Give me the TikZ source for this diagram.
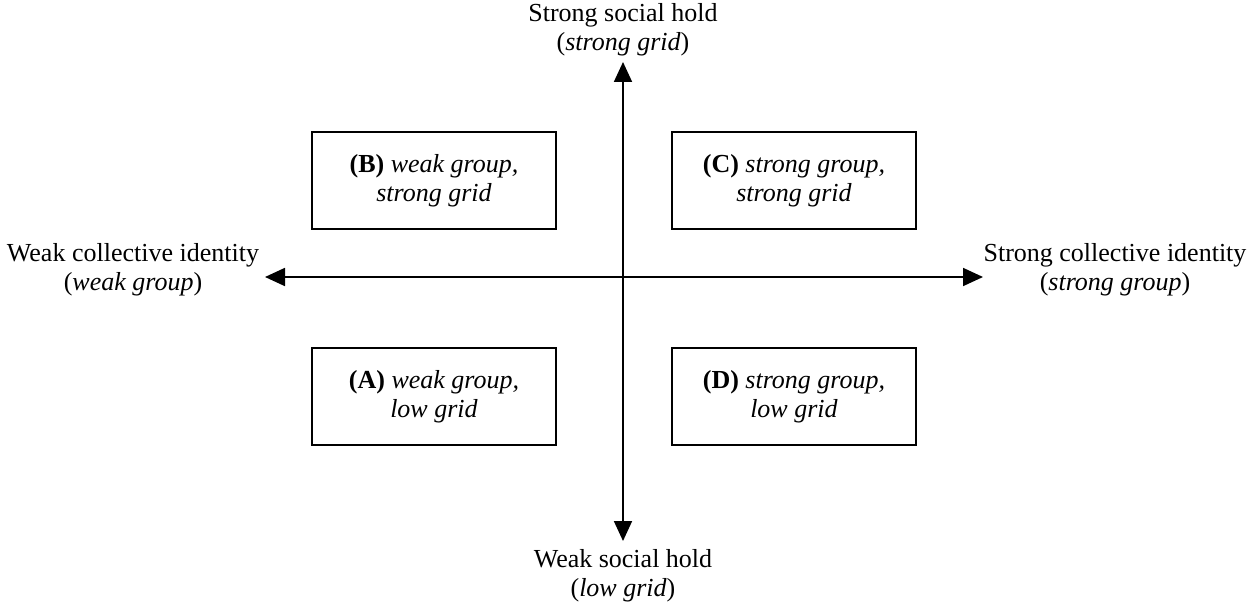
\documentclass[tikz,border=0pt]{standalone}
\usepackage{fontspec}
\setmainfont{Liberation Serif}
\usetikzlibrary{arrows.meta}
\begin{document}
\begin{tikzpicture}[x=0.5pt,y=-0.5pt,
  quad/.style={draw,line width=1.1pt,minimum width=122pt,minimum height=48.5pt,align=center,inner sep=0pt,font=\fontsize{13}{14.5}\selectfont},
  lbl/.style={align=center,inner sep=0pt,font=\fontsize{13}{14.5}\selectfont},
  axis/.style={line width=0.9pt,{Triangle[length=10pt,width=9pt]}-{Triangle[length=10pt,width=9pt]}}]
\useasboundingbox (0,0) rectangle (1250,610);
\coordinate (top) at (623,62);
\coordinate (bot) at (623,541);
\coordinate (lft) at (265,277);
\coordinate (rgt) at (983,277);
\draw[axis] (lft) -- (rgt);
\draw[axis] (bot) -- (top);
\node[lbl] (ltop) at (623,30) {Strong social hold\\(\textit{strong grid})};
\node[lbl] (lbot) at (623,576) {Weak social hold\\(\textit{low grid})};
\node[lbl] (llft) at (133,270) {Weak collective identity\\(\textit{weak group})};
\node[lbl] (lrgt) at (1115,270) {Strong collective identity\\(\textit{strong group})};
\node[quad] (B) at (434,180.5) {\textbf{(B)} \textit{weak group,}\\\textit{strong grid}};
\node[quad] (C) at (794,180.5) {\textbf{(C)} \textit{strong group,}\\\textit{strong grid}};
\node[quad] (A) at (434,396.5) {\textbf{(A)} \textit{weak group,}\\\textit{low grid}};
\node[quad] (D) at (794,396.5) {\textbf{(D)} \textit{strong group,}\\\textit{low grid}};
\end{tikzpicture}
\end{document}
